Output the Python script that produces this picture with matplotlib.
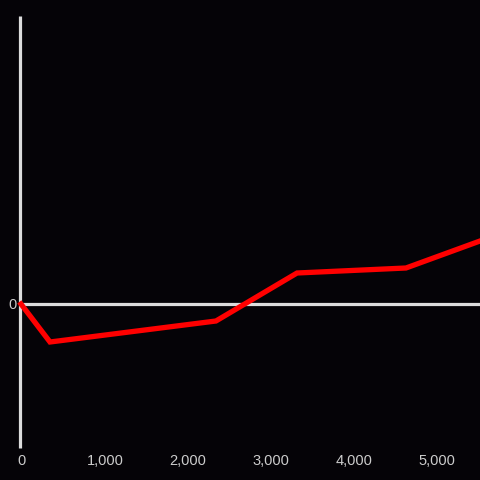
import matplotlib
matplotlib.use("Agg")
import matplotlib.pyplot as plt

x_values = [0, 350, 2352, 3330, 4644, 5537]
y_values = [0, -38, -17, 31, 36, 63]
x_ticks = [0, 1000, 2000, 3000, 4000, 5000]
x_tick_labels = ["0", "1,000", "2,000", "3,000", "4,000", "5,000"]

bg = "#050307"
fig = plt.figure(figsize=(4.8, 4.8), dpi=100, facecolor=bg)
ax = fig.add_axes([0, 0, 1, 1], facecolor=bg)
ax.set_xlim(-253, 5537)
ax.set_ylim(-176, 304)
ax.axis("off")

axis_col = "#dcdcdc"
ax.plot([-12, -12], [-144, 288], color=axis_col, lw=2.3, solid_capstyle="butt", zorder=2)
ax.plot([-12, 5537], [0, 0], color=axis_col, lw=2.3, solid_capstyle="butt", zorder=2)

ax.plot(x_values, y_values, color="#ff0000", lw=3.8, zorder=3, solid_joinstyle="miter")

for xv, lab in zip(x_ticks, x_tick_labels):
    ax.text(xv + 12, -157, lab, color="#cccccc", fontsize=10.5, ha="center", va="center",
            family="Liberation Sans")
ax.text(-100, -1, "0", color="#cccccc", fontsize=10.5, ha="center", va="center",
        family="Liberation Sans")

fig.savefig("out.png", dpi=100, facecolor=bg)
